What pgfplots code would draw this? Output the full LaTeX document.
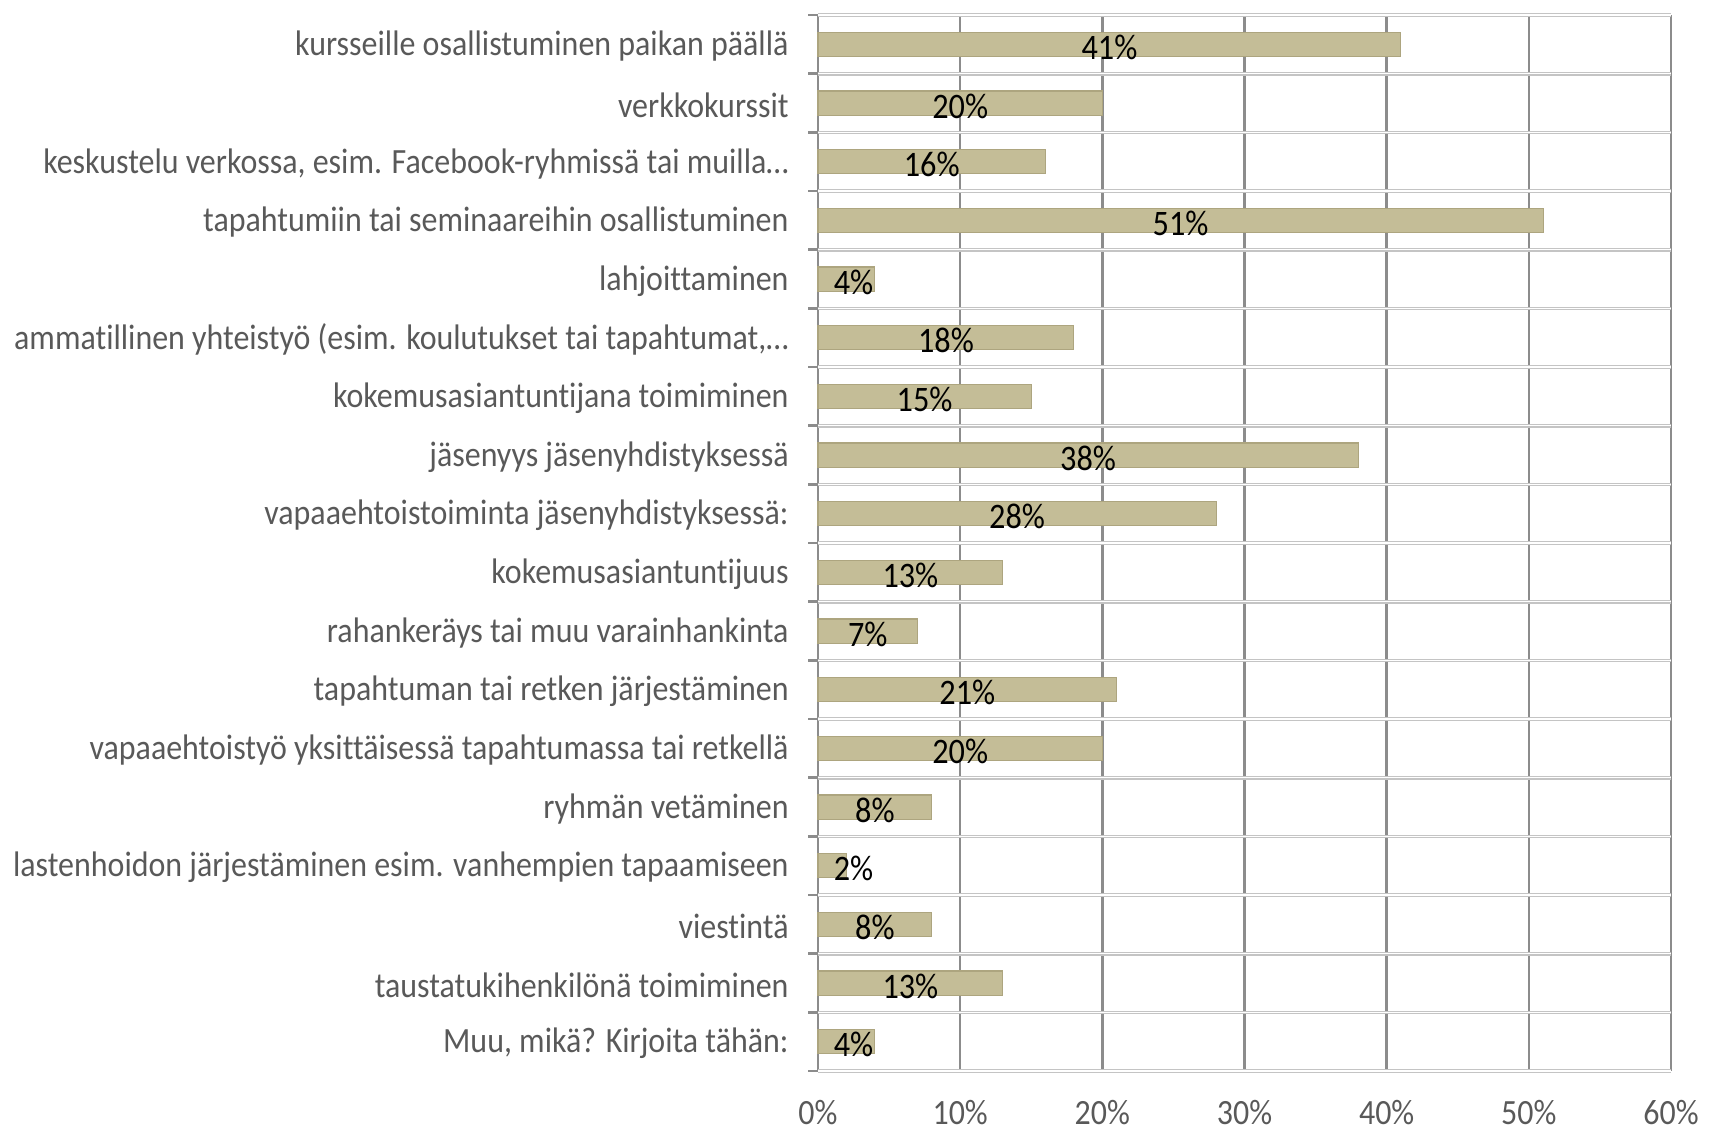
\documentclass[border=0pt]{standalone}
\usepackage{fontspec}
\setmainfont{Carlito}[FakeStretch=0.9, Ligatures=NoCommon]
\usepackage{pgfplots}
\usepackage{pgfplotstable}
\pgfplotsset{compat=1.18}

\definecolor{barfill}{HTML}{C4BD97}
\definecolor{bardraw}{HTML}{ADA57F}
\definecolor{gridc}{HTML}{8C8C8C}
\definecolor{sepc}{HTML}{C4C4C4}
\definecolor{labc}{HTML}{595959}

% idx = row from the top, val = share in %, pos = where the value label sits
\pgfplotstableread{
idx val pos
0  41 20.5
1  20 10
2  16 8
3  51 25.5
4  4  2.5
5  18 9
6  15 7.5
7  38 19
8  28 14
9  13 6.5
10 7  3.5
11 21 10.5
12 20 10
13 8  4
14 2  2.5
15 8  4
16 13 6.5
17 4  2.5
}\shares

\begin{document}
\begin{tikzpicture}
\begin{axis}[
  scale only axis,
  width=8.53cm, height=10.56cm,
  xmin=0, xmax=60,
  ymin=-0.5, ymax=17.5,
  y dir=reverse,
  axis line style={draw=none},
  xtick={0,10,...,60},
  xticklabels={0\%,10\%,20\%,30\%,40\%,50\%,60\%},
  xmajorgrids,
  x grid style={gridc, line width=0.7pt},
  ytick={0,...,17},
  yticklabels={
    {kursseille osallistuminen paikan päällä},
    {verkkokurssit},
    {keskustelu verkossa, esim. Facebook-ryhmissä tai muilla…},
    {tapahtumiin tai seminaareihin osallistuminen},
    {lahjoittaminen},
    {ammatillinen yhteistyö (esim. koulutukset tai tapahtumat,…},
    {kokemusasiantuntijana toimiminen},
    {jäsenyys jäsenyhdistyksessä},
    {vapaaehtoistoiminta jäsenyhdistyksessä:},
    {kokemusasiantuntijuus},
    {rahankeräys tai muu varainhankinta},
    {tapahtuman tai retken järjestäminen},
    {vapaaehtoistyö yksittäisessä tapahtumassa tai retkellä},
    {ryhmän vetäminen},
    {lastenhoidon järjestäminen esim. vanhempien tapaamiseen},
    {viestintä},
    {taustatukihenkilönä toimiminen},
    {Muu, mikä? Kirjoita tähän:}},
  minor ytick={-0.5,0.5,...,17.5},
  yminorgrids,
  minor grid style={sepc, line width=0.35pt, double=white, double distance=0.35pt},
  ytick pos=left,
  tick align=outside,
  major tick length=0pt,
  minor tick length=1mm,
  minor tick style={gridc, line width=0.7pt},
  tick label style={font=\fontsize{10.1}{12}\selectfont, text=labc},
  yticklabel style={xshift=-1.7mm, yshift=-0.2mm},
  xticklabel style={inner sep=0pt, yshift=-2.9mm},
  /pgf/number format/assume math mode=true,
  clip=false,
]
\addplot[xbar, bar width=0.41, fill=barfill, draw=bardraw, line width=0.3pt]
  table[x=val, y=idx] {\shares};
\addplot[only marks, mark=none, point meta=explicit,
  nodes near coords={\pgfmathprintnumber{\pgfplotspointmeta}\%},
  every node near coord/.append style={anchor=center, text=black,
    font=\fontsize{10.2}{12}\selectfont, yshift=-0.3mm}]
  table[x=pos, y=idx, meta=val] {\shares};
\end{axis}
\path ([shift={(-8.18cm,-0.60cm)}]current axis.south west)
  rectangle ([shift={(0.46cm,0.15cm)}]current axis.north east);
\end{tikzpicture}
\end{document}
